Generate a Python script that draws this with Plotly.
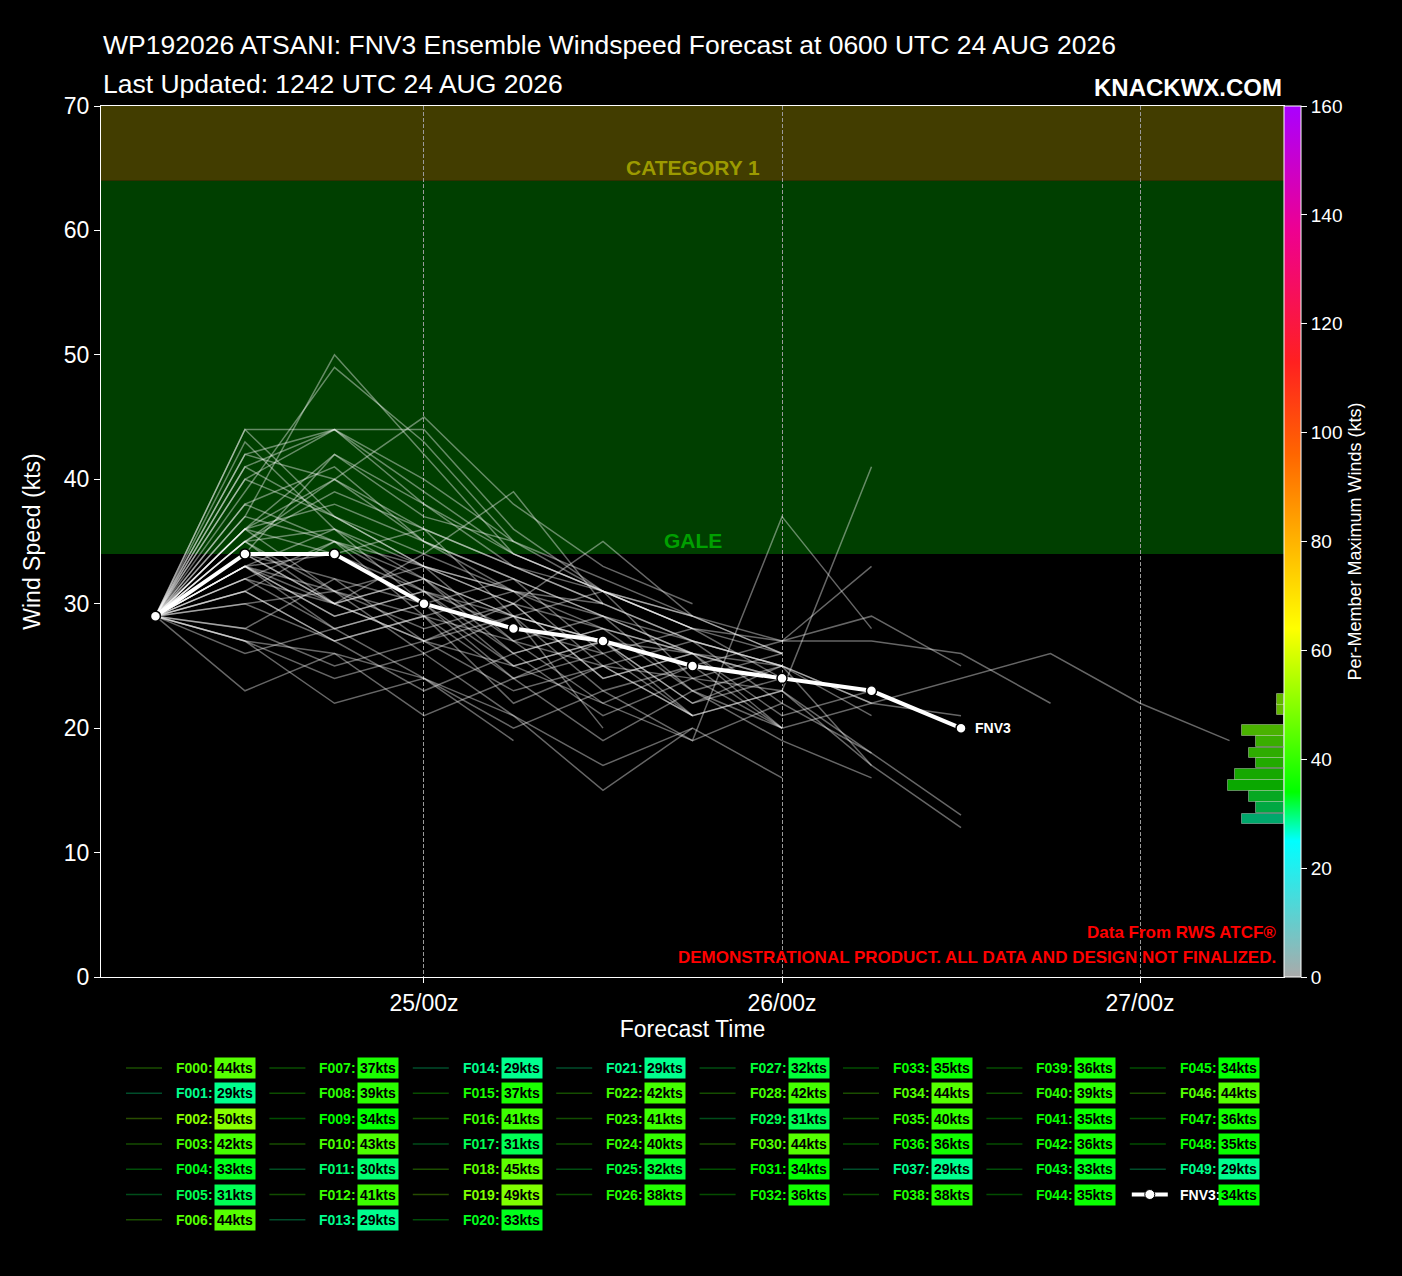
import plotly.graph_objects as go

# forecast valid times, 6-hourly from 0600 UTC 24 Aug 2026
times = [
    '2026-08-24 06:00', '2026-08-24 12:00', '2026-08-24 18:00',
    '2026-08-25 00:00', '2026-08-25 06:00', '2026-08-25 12:00', '2026-08-25 18:00',
    '2026-08-26 00:00', '2026-08-26 06:00', '2026-08-26 12:00', '2026-08-26 18:00',
    '2026-08-27 00:00', '2026-08-27 06:00',
]
tick_times = ['2026-08-25 00:00', '2026-08-26 00:00', '2026-08-27 00:00']
tick_labels = ['25/00z', '26/00z', '27/00z']

# ensemble member winds (kts), F000..F049
member_winds = [
    [29, 44, 37, 33, 30, 28, 26, 24],
    [29, 27, 26, 21, 24, 19, 23, 19, 16],
    [29, 37, 50, 42, 34, 31, 28],
    [29, 42, 40, 35, 31, 30, 27, 25],
    [29, 33, 28, 30, 24, 27, 22, 25, 17],
    [29, 31, 27, 29, 22, 25, 21],
    [29, 40, 44, 44, 36, 31, 29, 26],
    [29, 32, 30, 27, 25, 22, 19, 37, 28],
    [29, 33, 30, 34, 39, 30, 27, 25],
    [29, 34, 32, 30, 28, 27, 26, 25, 22, 24, 26, 22, 19],
    [29, 43, 36, 32, 29, 27],
    [29, 30, 27, 23, 26, 21, 24, 20, 22, 21],
    [29, 38, 41, 35, 32, 29, 26, 24],
    [29, 28, 25, 27, 23, 25, 21, 23, 18, 13],
    [29, 26, 28, 24, 20, 23, 19, 22, 18],
    [29, 37, 35, 33, 31, 29, 26],
    [29, 33, 31, 29, 27, 25, 24, 23, 41],
    [29, 31, 27, 29, 24, 26, 21, 23, 17, 12],
    [29, 36, 40, 45, 38, 33, 30],
    [29, 39, 49, 43, 35, 31, 28, 26],
    [29, 33, 29, 31, 26, 28, 23, 25, 21],
    [29, 27, 24, 26, 21, 17, 20],
    [29, 34, 42, 38, 33, 30],
    [29, 41, 37, 33, 31, 28, 26],
    [29, 35, 40, 36, 33, 31, 29, 27, 33],
    [29, 32, 28, 30, 25, 27, 22, 24],
    [29, 38, 35, 31, 28, 26],
    [29, 28, 32, 27, 30, 24, 26, 21, 23],
    [29, 36, 42, 37, 35],
    [29, 30, 31, 26, 29, 23, 25, 20],
    [29, 44, 44, 39, 34, 31, 28, 27, 29, 25],
    [29, 34, 30, 32, 26, 28],
    [29, 36, 31, 33, 27, 29, 23, 20],
    [29, 31, 35, 32, 29, 27, 25, 27, 27, 26, 22],
    [29, 42, 44, 40, 35, 32, 29],
    [29, 40, 37, 34, 31],
    [29, 33, 36, 30, 32, 26, 28, 24],
    [29, 23, 26, 24, 21, 15, 20, 16],
    [29, 36, 38, 35, 32, 29, 27, 25, 22],
    [29, 36, 34, 31, 29, 27, 25],
    [29, 35, 39, 36, 33, 30],
    [29, 32, 35, 29, 31, 25, 27, 22],
    [29, 35, 36, 33, 30, 35, 29, 26],
    [29, 33, 29, 31, 25, 27, 21],
    [29, 35, 31, 28, 30, 24, 26, 20],
    [29, 34, 30, 27, 29, 20],
    [29, 41, 44, 38, 34, 31, 28],
    [29, 33, 34, 36, 29, 31, 24, 26],
    [29, 35, 30, 32, 27, 22, 25],
    [29, 27, 22, 24, 19],
]
member_names = ['F%03d' % i for i in range(len(member_winds))]

fnv3_winds = [29, 34, 34, 30, 28, 27, 25, 24, 23, 20]

# side histogram (kts bin centre, member count)
hist_kts = [12.7, 13.6, 14.5, 15.4, 16.3, 17.2, 18.0, 18.9, 19.8, 20.7, 21.5, 22.3]
hist_counts = [6, 4, 5, 8, 7, 4, 5, 4, 6, 0, 1, 1]
hist_colors = ['#00a86c', '#00a842', '#06a822', '#0aa800', '#16a800', '#22aa00',
               '#2eac00', '#3aae00', '#4ab200', '#4ab200', '#62b600', '#62b600']

# colour ramp for max winds
cb_stops = [(0, '#aaaaaa'), (25, '#00ffff'), (34, '#00ff00'), (64, '#ffff00'),
            (83, '#ffa500'), (96, '#ff6600'), (113, '#ff2020'), (137, '#ee0090'),
            (160, '#aa00ff')]

FONT = 'Liberation Sans, Arial, sans-serif'

# plot area in pixels
L, R, T, B = 101, 1284, 106, 977


def px(x):
    return (x - L) / (R - L)


def py(y):
    return (B - y) / (B - T)


def hex_rgb(h):
    return tuple(int(h[i:i + 2], 16) for i in (1, 3, 5))


def wind_rgb(v):
    for (v0, c0), (v1, c1) in zip(cb_stops[:-1], cb_stops[1:]):
        if v0 <= v <= v1:
            f = (v - v0) / (v1 - v0)
            a, b = hex_rgb(c0), hex_rgb(c1)
            return tuple(round(a[k] + (b[k] - a[k]) * f) for k in range(3))
    return hex_rgb(cb_stops[-1][1])


def rgb_str(c, alpha=1.0):
    return 'rgba(%d,%d,%d,%s)' % (c[0], c[1], c[2], alpha)


fig = go.Figure()

# ensemble members
for name, w in zip(member_names, member_winds):
    fig.add_trace(go.Scatter(
        x=times[:len(w)], y=w, mode='lines', name=name,
        line=dict(color='rgba(255,255,255,0.4)', width=1.5),
        showlegend=False, hoverinfo='skip'
    ))

# FNV3 mean
fig.add_trace(go.Scatter(
    x=times[:len(fnv3_winds)], y=fnv3_winds, mode='lines+markers', name='FNV3',
    line=dict(color='white', width=4),
    marker=dict(size=10, color='white', line=dict(color='black', width=1.5)),
    showlegend=False
))

# histogram on the right edge
fig.add_trace(go.Bar(
    x=hist_counts, y=hist_kts, orientation='h', width=0.87,
    marker=dict(color=hist_colors, line=dict(color='rgba(255,255,255,0.35)', width=1)),
    xaxis='x2', showlegend=False, hoverinfo='skip'
))

# colorbar holder
fig.add_trace(go.Scatter(
    x=[None], y=[None], mode='markers', showlegend=False,
    marker=dict(
        color=[0], cmin=0, cmax=160,
        colorscale=[[v / 160, c] for v, c in cb_stops],
        showscale=True,
        colorbar=dict(
            x=1.0, xanchor='left', xpad=0, y=0.5, yanchor='middle',
            len=1.0, lenmode='fraction', ypad=0, thickness=17,
            outlinecolor='white', outlinewidth=1,
            tickvals=list(range(0, 161, 20)), ticks='outside', ticklen=6,
            tickcolor='white', tickfont=dict(family=FONT, size=19, color='white'),
            title=dict(text='Per-Member Maximum Winds (kts)', side='right',
                       font=dict(family=FONT, size=18, color='white')),
        )
    )
))

shapes = [
    dict(type='rect', xref='paper', yref='y', x0=0, x1=1, y0=34, y1=64,
         fillcolor='#003f00', line_width=0, layer='below'),
    dict(type='rect', xref='paper', yref='y', x0=0, x1=1, y0=64, y1=70,
         fillcolor='#423d00', line_width=0, layer='below'),
]

annotations = [
    dict(text='WP192026 ATSANI: FNV3 Ensemble Windspeed Forecast at 0600 UTC 24 AUG 2026',
         x=0, y=py(45), xanchor='left', yanchor='middle',
         font=dict(family=FONT, size=26.5, color='white')),
    dict(text='Last Updated: 1242 UTC 24 AUG 2026',
         x=0, y=py(84), xanchor='left', yanchor='middle',
         font=dict(family=FONT, size=26.5, color='white')),
    dict(text='KNACKWX.COM', x=1, y=py(87), xanchor='right', yanchor='middle',
         font=dict(family=FONT, size=24, color='white', weight='bold')),
    dict(text='CATEGORY 1', x=0.5, y=64, yref='y', xanchor='center', yanchor='bottom',
         font=dict(family=FONT, size=21, color='#9c9a00', weight='bold')),
    dict(text='GALE', x=0.5, y=34, yref='y', xanchor='center', yanchor='bottom',
         font=dict(family=FONT, size=21, color='#00a000', weight='bold')),
    dict(text='Data From RWS ATCF®', x=px(1278), y=py(932), xanchor='right', yanchor='middle',
         font=dict(family=FONT, size=17, color='#ff0000', weight='bold')),
    dict(text='DEMONSTRATIONAL PRODUCT. ALL DATA AND DESIGN NOT FINALIZED.',
         x=px(1278), y=py(957), xanchor='right', yanchor='middle',
         font=dict(family=FONT, size=17, color='#ff0000', weight='bold')),
    dict(text='FNV3', x=times[len(fnv3_winds) - 1], xref='x', y=fnv3_winds[-1], yref='y',
         xanchor='left', yanchor='middle', xshift=12,
         font=dict(family=FONT, size=14, color='white', weight='bold')),
]

# legend built by hand: coloured names with coloured value boxes
entries = [(n, max(w), False) for n, w in zip(member_names, member_winds)]
entries.append(('FNV3', max(fnv3_winds), True))
for i, (name, vmax, is_mean) in enumerate(entries):
    if i < 21:
        col, row = divmod(i, 7)
    else:
        col, row = 3 + (i - 21) // 6, (i - 21) % 6
    lx = 174 + 143.4 * col
    ly = 1068 + 25.3 * row
    c = wind_rgb(vmax)
    if is_mean:
        shapes.append(dict(type='line', xref='paper', yref='paper',
                           x0=px(lx - 46), x1=px(lx - 10), y0=py(ly), y1=py(ly),
                           line=dict(color='white', width=4)))
        shapes.append(dict(type='circle', xref='paper', yref='paper',
                           x0=px(lx - 33), x1=px(lx - 23), y0=py(ly + 5), y1=py(ly - 5),
                           fillcolor='white', line=dict(color='black', width=1)))
        label_color = 'white'
    else:
        shapes.append(dict(type='line', xref='paper', yref='paper',
                           x0=px(lx - 48), x1=px(lx - 12), y0=py(ly), y1=py(ly),
                           line=dict(color=rgb_str(c, 0.3), width=1.5)))
        label_color = rgb_str(c)
    annotations.append(dict(text=name + ':', x=px(lx), y=py(ly), xanchor='left',
                            yanchor='middle',
                            font=dict(family=FONT, size=14, color=label_color, weight='bold')))
    annotations.append(dict(text='%dkts' % vmax, x=px(lx + 40), y=py(ly), xanchor='left',
                            yanchor='middle', bgcolor=rgb_str(c), borderpad=2,
                            font=dict(family=FONT, size=14, color='black', weight='bold')))

for a in annotations:
    a.setdefault('xref', 'paper')
    a.setdefault('yref', 'paper')
    a['showarrow'] = False

fig.update_layout(
    width=1402, height=1276,
    margin=dict(l=L, r=1402 - R, t=T, b=1276 - B, autoexpand=False),
    paper_bgcolor='black', plot_bgcolor='black',
    font=dict(family=FONT, color='white'),
    shapes=shapes, annotations=annotations,
    xaxis=dict(
        type='date', range=['2026-08-24 02:21', '2026-08-27 09:39'],
        tickvals=tick_times, ticktext=tick_labels,
        ticks='outside', ticklen=5, tickcolor='white',
        tickfont=dict(family=FONT, size=23, color='white'),
        showgrid=True, gridcolor='#9a9a9a', griddash='4px,2px', gridwidth=1,
        showline=True, linecolor='white', linewidth=1, mirror=True,
        zeroline=False,
        title=dict(text='Forecast Time', standoff=6,
                   font=dict(family=FONT, size=23, color='white')),
    ),
    xaxis2=dict(overlaying='x', anchor='y', range=[(R - L) / 7, 0], visible=False),
    yaxis=dict(
        range=[0, 70], tickvals=list(range(0, 71, 10)),
        ticks='outside', ticklen=6, tickcolor='white',
        tickfont=dict(family=FONT, size=23, color='white'),
        showgrid=False, zeroline=False,
        showline=True, linecolor='white', linewidth=1, mirror=True,
        title=dict(text='Wind Speed (kts)', standoff=16,
                   font=dict(family=FONT, size=23, color='white')),
    ),
    bargap=0,
)

fig.write_html('out.html', config={'displayModeBar': False},
               post_script="document.body.style.margin='0px';"
                           "document.body.style.background='black';")
